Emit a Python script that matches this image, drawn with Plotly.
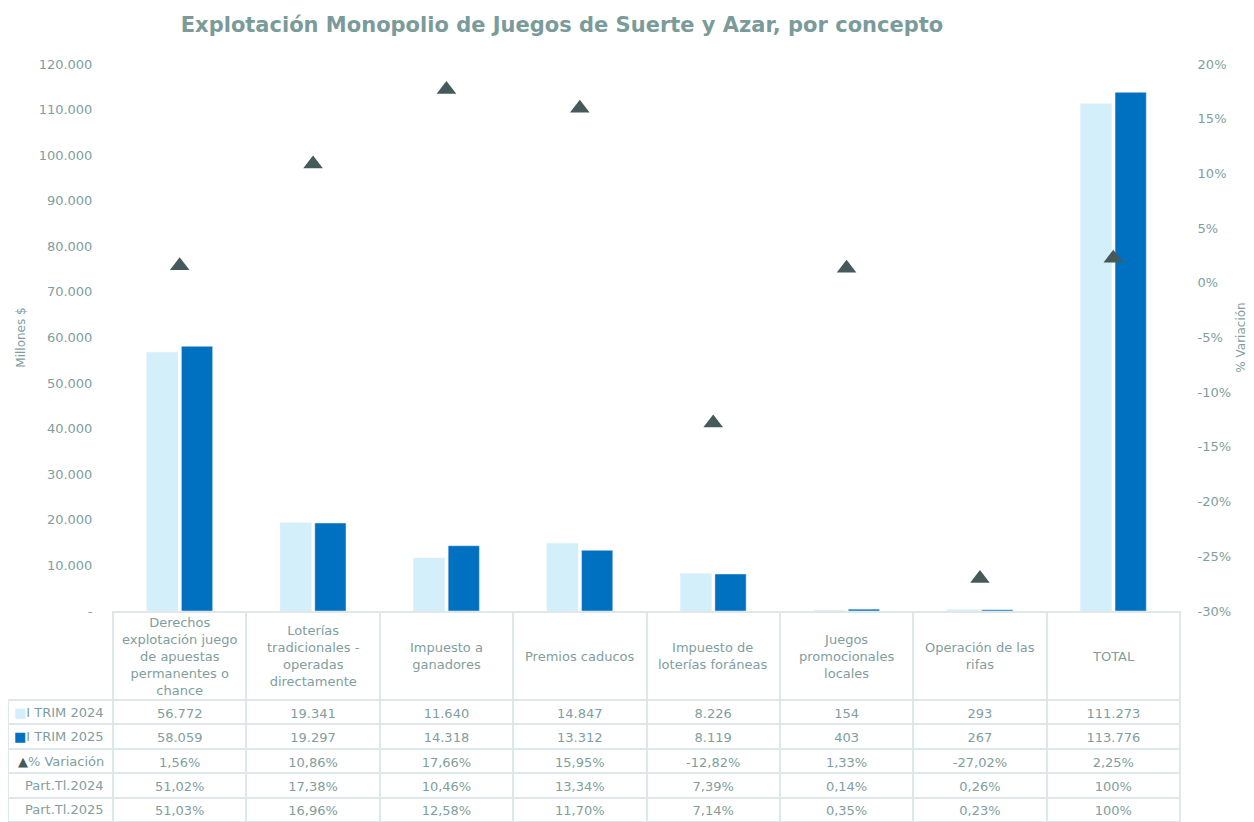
import plotly.graph_objects as go

# ------------------------------
# Data
# ------------------------------
categories = [
    "Derechos<br>explotación juego<br>de apuestas<br>permanentes o<br>chance",
    "Loterías<br>tradicionales -<br>operadas<br>directamente",
    "Impuesto a<br>ganadores",
    "Premios caducos",
    "Impuesto de<br>loterías foráneas",
    "Juegos<br>promocionales<br>locales",
    "Operación de las<br>rifas",
    "TOTAL",
]
trim_2024 = [56772, 19341, 11640, 14847, 8226, 154, 293, 111273]
trim_2025 = [58059, 19297, 14318, 13312, 8119, 403, 267, 113776]
variacion = [1.56, 10.86, 17.66, 15.95, -12.82, 1.33, -27.02, 2.25]
part_2024 = [51.02, 17.38, 10.46, 13.34, 7.39, 0.14, 0.26, 100]
part_2025 = [51.03, 16.96, 12.58, 11.70, 7.14, 0.35, 0.23, 100]

y_ticks = [0, 10000, 20000, 30000, 40000, 50000, 60000, 70000, 80000, 90000, 100000, 110000, 120000]
y_ticktext = ["-", "10.000", "20.000", "30.000", "40.000", "50.000", "60.000",
              "70.000", "80.000", "90.000", "100.000", "110.000", "120.000"]
y2_ticks = [-30, -25, -20, -15, -10, -5, 0, 5, 10, 15, 20]
y2_ticktext = ["-30%", "-25%", "-20%", "-15%", "-10%", "-5%", "0%", "5%", "10%", "15%", "20%"]

# ------------------------------
# Style / geometry (page body adds an 8px margin)
# ------------------------------
W, H = 1246, 814
FONT = "DejaVu Sans"
TXT = "#7f9e9e"
LIGHT = "#d3effa"
DARK = "#0070c0"
TRI = "#455b5b"
GRID = "#dfe8e8"
CLEAR = "rgba(0,0,0,0)"

PLOT_L, PLOT_R, PLOT_T, PLOT_B = 105, 1172, 56, 603
TABLE_T = 604
HEAD_H = 88
ROW_H = 24.4
LABEL_W = 105

x_idx = list(range(len(categories)))


def fmt_int(v):
    return f"{v:,}".replace(",", ".")


def fmt_pct(v):
    if v == 100:
        return "100%"
    return f"{v:.2f}%".replace(".", ",")


# ------------------------------
# Figure
# ------------------------------
fig = go.Figure()

fig.add_trace(go.Bar(x=x_idx, y=trim_2024, name="I TRIM 2024", marker_color=LIGHT))
fig.add_trace(go.Bar(x=x_idx, y=trim_2025, name="I TRIM 2025", marker_color=DARK))
fig.add_trace(go.Scatter(
    x=x_idx, y=variacion, name="% Variación", mode="markers", yaxis="y2",
    marker=dict(symbol="triangle-up", size=17, color=TRI),
))

columns = [[""] * 5]
for i in x_idx:
    columns.append([
        fmt_int(trim_2024[i]),
        fmt_int(trim_2025[i]),
        fmt_pct(variacion[i]),
        fmt_pct(part_2024[i]),
        fmt_pct(part_2025[i]),
    ])

col_w = (PLOT_R - LABEL_W) / len(categories)
fig.add_trace(go.Table(
    domain=dict(x=[0, PLOT_R / W], y=[0, (H - TABLE_T) / H]),
    columnwidth=[LABEL_W] + [col_w] * len(categories),
    header=dict(
        values=[""] * (len(categories) + 1),
        height=HEAD_H,
        fill_color=[CLEAR] + ["white"] * len(categories),
        line=dict(color=[CLEAR] + [GRID] * len(categories), width=2),
        font=dict(family=FONT, size=13, color=TXT),
    ),
    cells=dict(
        values=columns,
        height=ROW_H,
        align="center",
        fill_color="white",
        line=dict(color=GRID, width=2),
        font=dict(family=FONT, size=13, color=TXT),
    ),
))

# header texts, centred on each category through the x axis
annotations = []
head_y = (H - (TABLE_T + HEAD_H / 2)) / H
for i, cat in enumerate(categories):
    annotations.append(dict(
        x=i, xref="x", y=head_y, yref="paper", text=cat, showarrow=False,
        xanchor="center", yanchor="middle", align="center",
        font=dict(family=FONT, size=13, color=TXT),
    ))

row_labels = [
    f"<span style='color:{LIGHT}'>■</span>I TRIM 2024",
    f"<span style='color:{DARK}'>■</span>I TRIM 2025",
    f"<span style='color:{TRI}'>▲</span>% Variación",
    "Part.Tl.2024",
    "Part.Tl.2025",
]
for r, lab in enumerate(row_labels):
    yc = TABLE_T + HEAD_H + (r + 0.5) * ROW_H
    annotations.append(dict(
        x=(LABEL_W - 7) / W, xref="paper", y=(H - yc) / H, yref="paper",
        text=lab, showarrow=False, xanchor="right", yanchor="middle",
        font=dict(family=FONT, size=13, color=TXT),
    ))

fig.update_layout(
    width=W, height=H,
    margin=dict(l=0, r=0, t=0, b=0),
    paper_bgcolor="white",
    plot_bgcolor="white",
    showlegend=False,
    separators=",.",
    barmode="group",
    bargap=0.48,
    bargroupgap=0.1,
    font=dict(family=FONT, size=13, color=TXT),
    annotations=annotations,
    title=dict(
        text="<b>Explotación Monopolio de Juegos de Suerte y Azar, por concepto</b>",
        x=554 / W, xanchor="center", y=1 - 17 / H, yanchor="middle",
        font=dict(family=FONT, size=21, color="#7a9b9a"),
    ),
    xaxis=dict(
        domain=[PLOT_L / W, PLOT_R / W], range=[-0.5, 7.5],
        showticklabels=False, showgrid=False, zeroline=False, showline=False,
    ),
    yaxis=dict(
        domain=[(H - PLOT_B) / H, (H - PLOT_T) / H], range=[0, 120000],
        tickvals=y_ticks, ticktext=y_ticktext,
        showgrid=False, zeroline=False, showline=False, automargin=False,
        ticks="outside", ticklen=17, tickcolor="white",
        title=dict(text="Millones $", standoff=10, font=dict(size=12, color=TXT)),
    ),
    yaxis2=dict(
        overlaying="y", side="right", range=[-30, 20],
        tickvals=y2_ticks, ticktext=y2_ticktext,
        showgrid=False, zeroline=False, showline=False, automargin=False,
        ticks="outside", ticklen=14, tickcolor="white",
        title=dict(text="% Variación", standoff=6, font=dict(size=12, color=TXT)),
    ),
)

fig.write_html("out.html")
